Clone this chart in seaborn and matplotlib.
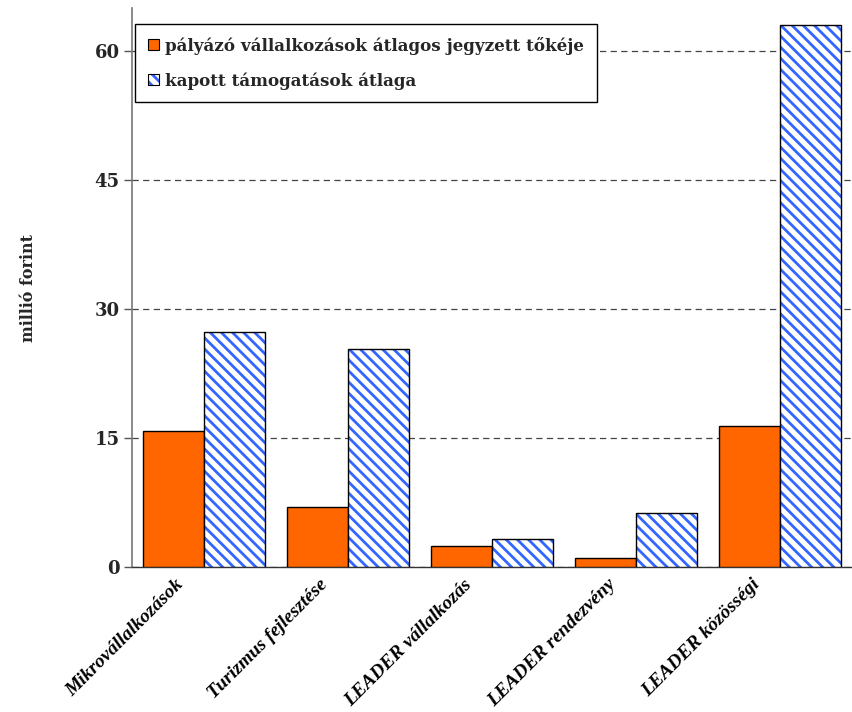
import matplotlib
matplotlib.use("Agg")
import matplotlib.pyplot as plt
from matplotlib.patches import Patch, Rectangle
from matplotlib.transforms import ScaledTranslation
import numpy as np
import pandas as pd
import seaborn as sns

# Categories and series values (million HUF)
kategoriak = ["Mikrovállalkozások", "Turizmus fejlesztése", "LEADER vállalkozás",
              "LEADER rendezvény", "LEADER közösségi"]
sorozatok = ["pályázó vállalkozások átlagos jegyzett tőkéje", "kapott támogatások átlaga"]
jegyzett_toke = [15.8, 7.0, 2.5, 1.1, 16.4]
tamogatas = [27.3, 25.3, 3.2, 6.3, 63.0]
y_ticks = [0, 15, 30, 45, 60]
y_label = "millió forint"

ORANGE = "#FF6600"
BLUE = "#3366FF"
HATCH = "\\\\\\"

sns.set_theme(style="white")
plt.rcParams["hatch.linewidth"] = 2.0
plt.rcParams["font.family"] = ["DejaVu Serif"]

df = pd.DataFrame({
    "kategória": kategoriak * 2,
    "sorozat": [sorozatok[0]] * len(kategoriak) + [sorozatok[1]] * len(kategoriak),
    "érték": jegyzett_toke + tamogatas,
})

fig = plt.figure(figsize=(8.52, 7.12), dpi=100)
ax = fig.add_axes([132 / 852, 1 - 567 / 712, 720 / 852, (567 - 8) / 712])

sns.barplot(data=df, x="kategória", y="érték", hue="sorozat", hue_order=sorozatok,
            palette=[ORANGE, "white"], edgecolor="black", linewidth=1.0,
            width=0.845, gap=0, saturation=1, legend=False, ax=ax, zorder=3)

# Hatched bars: blue diagonal stripes with a black outline drawn on top
for p in ax.containers[1]:
    p.set_hatch(HATCH)
    p.set_edgecolor(BLUE)
    p.set_linewidth(0)
    ax.add_patch(Rectangle(p.get_xy(), p.get_width(), p.get_height(),
                           fill=False, edgecolor="black", linewidth=1.0, zorder=4))

ax.set_ylim(0, 65)
ax.set_xlim(-0.5, len(kategoriak) - 0.5)
ax.set_yticks(y_ticks)
ax.set_yticklabels([str(t) for t in y_ticks], fontsize=13, fontweight="bold",
                   family="DejaVu Serif")
ax.yaxis.grid(True, linestyle=(0, (5, 3.5)), color="#444444", linewidth=0.9)
ax.set_axisbelow(True)

ax.set_xlabel("")
ax.set_ylabel(y_label, fontsize=11.5, fontweight="bold", family="DejaVu Serif", labelpad=41)

# Category labels: slanted, ending just left of each category centre
ax.set_xticks(range(len(kategoriak)))
ax.set_xticklabels([])
label_trans = ax.get_xaxis_transform() + ScaledTranslation(-29 / 100, -9 / 100,
                                                           fig.dpi_scale_trans)
for i, k in enumerate(kategoriak):
    ax.text(i, 0, k, transform=label_trans, rotation=45, rotation_mode="anchor",
            ha="right", va="top", fontsize=14, fontweight="bold", fontstyle="italic",
            family="Liberation Serif", color="black", clip_on=False)

ax.set_xticks(np.arange(-0.5, len(kategoriak) + 0.5, 1), minor=True)
ax.tick_params(axis="x", which="major", length=0)
ax.tick_params(axis="x", which="minor", length=6, width=1, color="#333333", direction="out")
ax.tick_params(axis="y", which="major", length=6, width=1, color="#555555",
               direction="out", left=True, pad=3)

for s in ["top", "right"]:
    ax.spines[s].set_visible(False)
ax.spines["left"].set_color("#777777")
ax.spines["left"].set_linewidth(1.2)
ax.spines["bottom"].set_color("#333333")
ax.spines["bottom"].set_linewidth(1.0)

# Legend
h1 = Patch(facecolor=ORANGE, edgecolor="black", linewidth=0.8)
h2a = Patch(facecolor="white", edgecolor=BLUE, hatch=HATCH, linewidth=0)
h2b = Patch(facecolor="none", edgecolor="black", linewidth=0.8)
leg = fig.legend([h1, (h2a, h2b)], sorozatok, loc="upper left",
                 bbox_to_anchor=(135 / 852, 1 - 24 / 712), bbox_transform=fig.transFigure,
                 borderaxespad=0, fancybox=False, framealpha=1, edgecolor="black",
                 handlelength=0.65, handleheight=0.65, handletextpad=0.4,
                 labelspacing=1.05, borderpad=0.75,
                 prop={"family": "DejaVu Serif", "weight": "bold", "size": 12.1})
leg.get_frame().set_linewidth(1.0)

fig.savefig("out.png", dpi=100)
